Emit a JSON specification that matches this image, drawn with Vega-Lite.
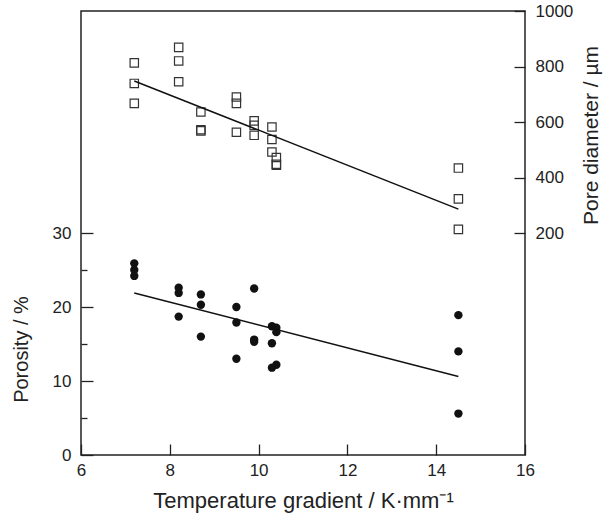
{
  "$schema": "https://vega.github.io/schema/vega-lite/v6.json",
  "width": 444,
  "height": 444,
  "autosize": "none",
  "padding": {"left": 81, "top": 11, "right": 82, "bottom": 60},
  "background": "white",
  "config": {
    "view": {"stroke": "#222", "strokeWidth": 1.5},
    "font": "Liberation Sans",
    "axis": {
      "grid": false,
      "domain": false,
      "labelFlush": false,
      "labelOverlap": false,
      "labelFont": "Liberation Sans",
      "titleFont": "Liberation Sans",
      "labelColor": "#222",
      "titleColor": "#222",
      "tickColor": "#222",
      "tickWidth": 1.3,
      "labelFontSize": 17,
      "titleFontSize": 20,
      "titleFontWeight": "normal"
    }
  },
  "datasets": {
    "porosity": [
      {"gradient": 7.2, "porosity": 25.9}, {"gradient": 7.2, "porosity": 25.0}, {"gradient": 7.2, "porosity": 24.2},
      {"gradient": 8.2, "porosity": 22.6}, {"gradient": 8.2, "porosity": 21.9}, {"gradient": 8.2, "porosity": 18.7},
      {"gradient": 8.7, "porosity": 21.7}, {"gradient": 8.7, "porosity": 20.3}, {"gradient": 8.7, "porosity": 16.0},
      {"gradient": 9.5, "porosity": 20.0}, {"gradient": 9.5, "porosity": 17.9}, {"gradient": 9.5, "porosity": 13.0},
      {"gradient": 9.9, "porosity": 22.5}, {"gradient": 9.9, "porosity": 15.6}, {"gradient": 9.9, "porosity": 15.3},
      {"gradient": 10.3, "porosity": 17.4}, {"gradient": 10.3, "porosity": 15.1}, {"gradient": 10.3, "porosity": 11.8},
      {"gradient": 10.4, "porosity": 17.2}, {"gradient": 10.4, "porosity": 16.6}, {"gradient": 10.4, "porosity": 12.2},
      {"gradient": 14.5, "porosity": 18.9}, {"gradient": 14.5, "porosity": 14.0}, {"gradient": 14.5, "porosity": 5.6}
    ],
    "porosityFit": [
      {"gradient": 7.2, "porosity": 21.9},
      {"gradient": 14.5, "porosity": 10.6}
    ],
    "pore": [
      {"gradient": 7.2, "diameter": 813}, {"gradient": 7.2, "diameter": 739}, {"gradient": 7.2, "diameter": 667},
      {"gradient": 8.2, "diameter": 869}, {"gradient": 8.2, "diameter": 820}, {"gradient": 8.2, "diameter": 745},
      {"gradient": 8.7, "diameter": 636}, {"gradient": 8.7, "diameter": 572}, {"gradient": 8.7, "diameter": 568},
      {"gradient": 9.5, "diameter": 690}, {"gradient": 9.5, "diameter": 667}, {"gradient": 9.5, "diameter": 563},
      {"gradient": 9.9, "diameter": 604}, {"gradient": 9.9, "diameter": 588}, {"gradient": 9.9, "diameter": 552},
      {"gradient": 10.3, "diameter": 582}, {"gradient": 10.3, "diameter": 537}, {"gradient": 10.3, "diameter": 492},
      {"gradient": 10.4, "diameter": 472}, {"gradient": 10.4, "diameter": 448}, {"gradient": 10.4, "diameter": 444},
      {"gradient": 14.5, "diameter": 434}, {"gradient": 14.5, "diameter": 323}, {"gradient": 14.5, "diameter": 213}
    ],
    "poreFit": [
      {"gradient": 7.2, "diameter": 748},
      {"gradient": 14.5, "diameter": 286}
    ]
  },
  "encoding": {
    "x": {
      "field": "gradient", "type": "quantitative",
      "scale": {"domain": [6, 16], "nice": false, "zero": false},
      "axis": {
        "values": [6, 8, 10, 12, 14, 16],
        "tickSize": -11,
        "labelPadding": 18,
        "title": "Temperature gradient / K·mm⁻¹",
        "titleFontSize": 22,
        "titleY": 52,
        "titleBaseline": "alphabetic"
      }
    }
  },
  "layer": [
    {
      "layer": [
        {
          "data": {"name": "porosity"},
          "mark": {"type": "circle", "size": 70, "color": "#111", "opacity": 1},
          "encoding": {
            "y": {
              "field": "porosity", "type": "quantitative",
              "scale": {"domain": [0, 60], "nice": false},
              "axis": {
                "orient": "left",
                "values": [0, 5, 10, 15, 20, 25, 30],
                "labelExpr": "datum.value % 10 === 0 ? datum.label : ''",
                "tickSize": {"condition": {"test": "datum.value % 10 === 0", "value": -12}, "value": -6},
                "labelPadding": 22,
                "title": "Porosity / %",
                "titleAngle": 270,
                "titleAlign": "center",
                "titleBaseline": "middle",
                "titleX": -60,
                "titleY": 338
              }
            }
          }
        },
        {
          "data": {"name": "porosityFit"},
          "mark": {"type": "line", "color": "#111", "strokeWidth": 1.5},
          "encoding": {
            "y": {"field": "porosity", "type": "quantitative"}
          }
        }
      ]
    },
    {
      "layer": [
        {
          "data": {"name": "pore"},
          "mark": {"type": "point", "shape": "square", "size": 70, "filled": false, "color": "#333", "strokeWidth": 1.2, "opacity": 1},
          "encoding": {
            "y": {
              "field": "diameter", "type": "quantitative",
              "scale": {"domain": [-600, 1000], "nice": false},
              "axis": {
                "orient": "right",
                "values": [200, 400, 600, 800, 1000],
                "format": "d",
                "tickSize": -11,
                "labelPadding": 21,
                "title": "Pore diameter / µm",
                "titleFontSize": 21,
                "titleAngle": 270,
                "titleAlign": "center",
                "titleBaseline": "middle",
                "titleX": 66,
                "titleY": 124
              }
            }
          }
        },
        {
          "data": {"name": "poreFit"},
          "mark": {"type": "line", "color": "#111", "strokeWidth": 1.5},
          "encoding": {
            "y": {"field": "diameter", "type": "quantitative"}
          }
        }
      ]
    }
  ],
  "resolve": {"scale": {"y": "independent"}}
}
